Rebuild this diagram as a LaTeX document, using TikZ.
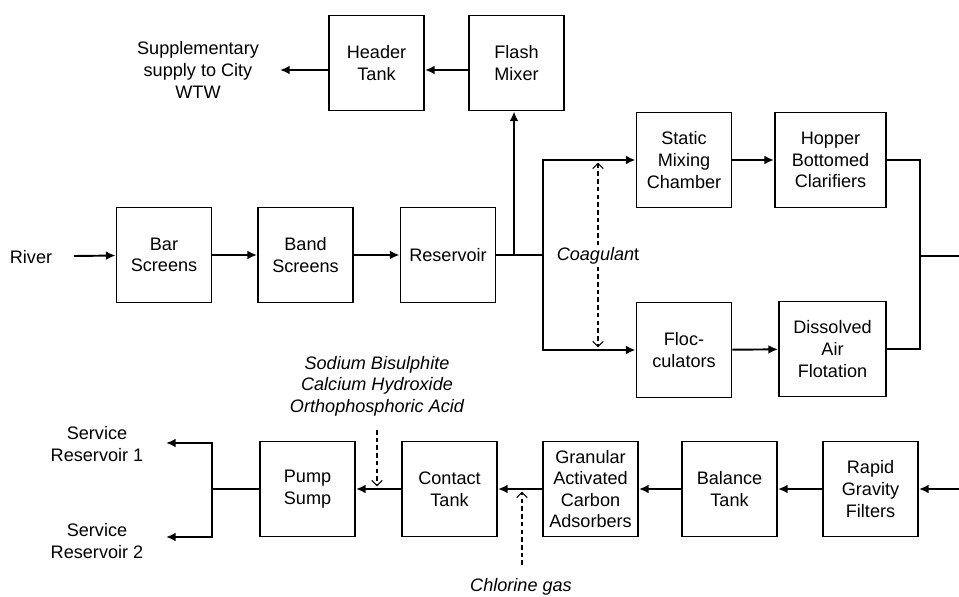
\documentclass[tikz,border=0pt]{standalone}
\usepackage{fontspec}
\setmainfont{Liberation Sans}
\usetikzlibrary{arrows.meta}

\begin{document}
\begin{tikzpicture}[x=0.02cm, y=-0.02cm,
    unit/.style={draw, line width=1.1pt, minimum width=1.9cm, minimum height=1.9cm,
      align=center, inner sep=1pt, font=\fontsize{10.3}{12.3}\selectfont},
    lbl/.style={align=center, inner sep=1pt, font=\fontsize{10.3}{12.3}\selectfont},
    chem/.style={lbl, font=\fontsize{10.3}{12.3}\selectfont\itshape},
    flow/.style={line width=1.1pt, -{Latex[length=5.5pt,width=5pt]}},
    pipe/.style={line width=1.1pt},
    dose/.style={line width=0.6pt, dash pattern=on 2.6pt off 1.8pt, shorten >=1.5pt,
      -{Straight Barb[length=3pt,width=6pt]}}]
    \useasboundingbox (0,0) rectangle (959,597);

    \node[unit] (header) at (376.5,63) {Header\\Tank};
    \node[unit] (flash) at (516.5,63) {Flash\\Mixer};
    \node[lbl] (supply) at (198,70) {Supplementary\\supply to City\\WTW};
    \coordinate (supplyin) at (280,70);

    \node[lbl] (river) at (31,257) {River};
    \coordinate (riverout) at (74,256);
    \node[unit] (bar) at (164,255) {Bar\\Screens};
    \node[unit] (band) at (305.5,255) {Band\\Screens};
    \node[unit] (res) at (448,255) {Reservoir};

    \node[unit] (static) at (684,160) {Static\\Mixing\\Chamber};
    \node[unit, minimum width=2.22cm] (hopper) at (830.5,160) {Hopper\\Bottomed\\Clarifiers};
    \node[unit] (floc) at (684,350) {Floc-\\culators};
    \node[unit, minimum width=2.14cm] (daf) at (832.5,349) {Dissolved\\Air\\Flotation};
    \node[lbl] (coag) at (598,256) {\textit{Coagulan}t};
    \coordinate (tap) at (514,255);
    \coordinate (split) at (543,255);
    \coordinate (merge) at (920,256);
    \coordinate (outR) at (959,256);

    \node[unit] (pump) at (307.5,489) {Pump\\Sump};
    \node[unit] (contact) at (449.5,489) {Contact\\Tank};
    \node[unit] (gac) at (590.5,489) {Granular\\Activated\\Carbon\\Adsorbers};
    \node[unit] (balance) at (729.5,489) {Balance\\Tank};
    \node[unit] (rgf) at (870.5,489) {Rapid\\Gravity\\Filters};
    \coordinate (inR) at (959,489);

    \node[chem] (dosing) at (377,386) {Sodium Bisulphite\\Calcium Hydroxide\\Orthophosphoric Acid};
    \coordinate (dosingtop) at (377,430);
    \node[chem] (chlorine) at (521,587) {Chlorine gas};
    \coordinate (chlorinetop) at (522,565);

    \node[lbl] (sr1) at (97,444) {Service\\Reservoir 1};
    \node[lbl] (sr2) at (97,541) {Service\\Reservoir 2};
    \coordinate (fork) at (212,489);
    \coordinate (sr1in) at (166,443);
    \coordinate (sr2in) at (166,537);

    \draw[flow] (riverout) -- (bar);
    \draw[flow] (bar) -- (band);
    \draw[flow] (band) -- (res);
    \draw[pipe] (res) -- (split);
    \draw[flow] (tap) -- (tap |- flash.south);
    \draw[flow] (flash.west |- supplyin) -- (header.east |- supplyin);
    \draw[flow] (header.west |- supplyin) -- (supplyin);
    \draw[flow] (split) |- (static);
    \draw[flow] (split) |- (floc);
    \draw[flow] (static) -- (hopper);
    \draw[flow] (floc) -- (daf);
    \draw[pipe] (hopper) -| (merge) |- (daf);
    \draw[pipe] (merge) -- (outR);
    \draw[dose] (coag.north) -- (static.west -| coag.north);
    \draw[dose] (coag.south) -- (floc.west -| coag.south);

    \draw[flow] (inR) -- (rgf);
    \draw[flow] (rgf) -- (balance);
    \draw[flow] (balance) -- (gac);
    \draw[flow] (gac) -- (contact);
    \draw[flow] (contact) -- (pump);
    \draw[dose] (chlorinetop) -- (chlorinetop |- gac);
    \draw[dose] (dosingtop) -- (dosingtop |- pump);
    \draw[pipe] (pump) -- (fork);
    \draw[flow] (fork) |- (sr1in);
    \draw[flow] (fork) |- (sr2in);
  \end{tikzpicture}
\end{document}
